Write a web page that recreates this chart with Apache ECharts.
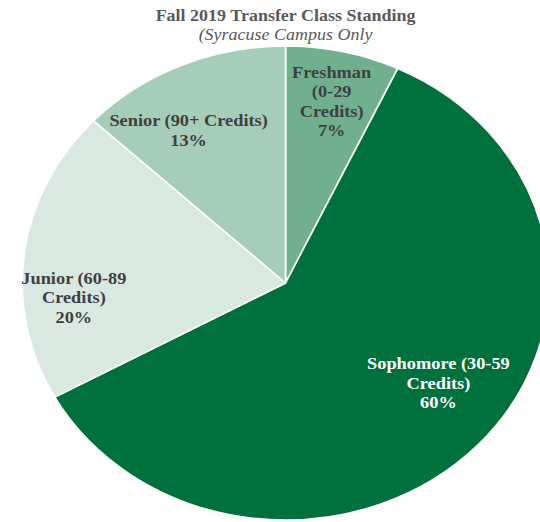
<!DOCTYPE html>
<html><head><meta charset="utf-8">
<script src="https://cdn.jsdelivr.net/npm/echarts@6/dist/echarts.min.js"></script>
<style>html,body{margin:0;padding:0;background:#fff;overflow:hidden}
#c{width:486px;height:522px;transform:scaleX(1.1111);transform-origin:0 0}</style>
</head><body><div id="c"></div>
<script>
const categories = ['Freshman\n(0-29\nCredits)', 'Sophomore (30-59\nCredits)', 'Junior (60-89\nCredits)', 'Senior (90+ Credits)'];
const values = [7, 60, 20, 13];
const colors = ['#70b08f', '#00703c', '#dae8e2', '#a6cdba'];
const labelColors = ['#404040', '#ffffff', '#404040', '#404040'];
const labelShift = [[15, -63], [49, 17], [-70, 30], [-39, -41]];

const chart = echarts.init(document.getElementById('c'), null, {renderer: 'svg'});
chart.setOption({
  animation: false,
  title: {
    text: 'Fall 2019 Transfer Class Standing',
    subtext: '(Syracuse Campus Only',
    left: 252, top: 3, itemGap: 3, textAlign: 'center',
    textStyle: {fontFamily: 'Liberation Serif', fontWeight: 'bold', fontSize: 16.2, color: '#595959'},
    subtextStyle: {fontFamily: 'Liberation Serif', fontStyle: 'italic', fontSize: 16.2, color: '#595959'}
  },
  series: [{
    type: 'pie',
    center: [257, 283],
    radius: [0, 237],
    startAngle: 90,
    clockwise: true,
    data: categories.map((n, i) => ({
      name: n, value: values[i],
      itemStyle: {color: colors[i]},
      label: {color: labelColors[i]}
    })),
    itemStyle: {borderColor: '#ffffff', borderWidth: 1.5},
    label: {
      position: 'inside',
      formatter: p => p.name + '\n' + Math.round(p.percent) + '%',
      fontFamily: 'Liberation Serif', fontWeight: 'bold', fontSize: 16.5, lineHeight: 19.5,
      align: 'center'
    },
    labelLayout: p => ({dx: labelShift[p.dataIndex][0], dy: labelShift[p.dataIndex][1]}),
    emphasis: {disabled: true}
  }]
});
</script></body></html>
